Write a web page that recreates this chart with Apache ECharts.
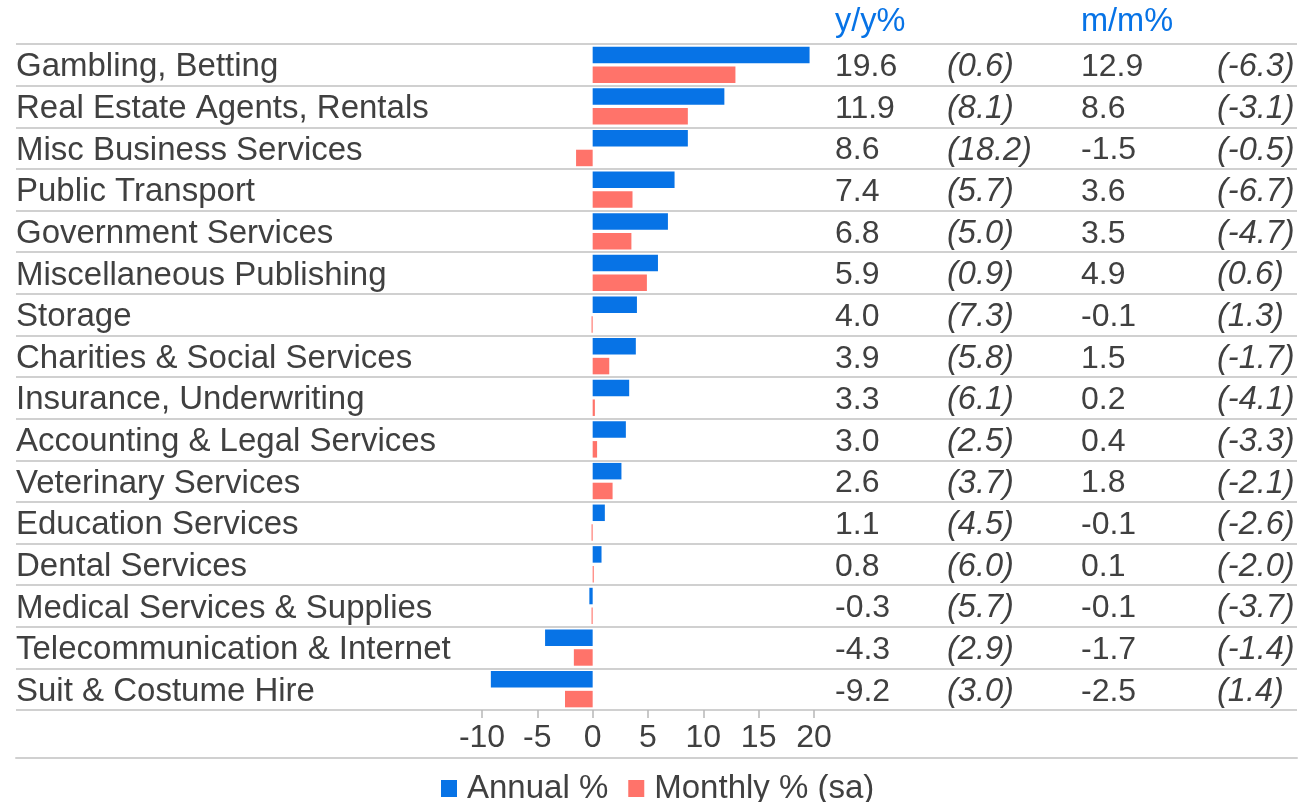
<!DOCTYPE html>
<html>
<head>
<meta charset="utf-8">
<script src="https://cdn.jsdelivr.net/npm/echarts@6/dist/echarts.min.js"></script>
<style>
  html, body { margin: 0; padding: 0; background: #ffffff; }
  #chart { width: 1302px; height: 802px; }
</style>
</head>
<body>
<div id="chart"></div>
<script>
// ---- data ----
const categories = [
  'Gambling, Betting',
  'Real Estate Agents, Rentals',
  'Misc Business Services',
  'Public Transport',
  'Government Services',
  'Miscellaneous Publishing',
  'Storage',
  'Charities & Social Services',
  'Insurance, Underwriting',
  'Accounting & Legal Services',
  'Veterinary Services',
  'Education Services',
  'Dental Services',
  'Medical Services & Supplies',
  'Telecommunication & Internet',
  'Suit & Costume Hire'
];
const annualPct   = [19.6, 11.9, 8.6, 7.4, 6.8, 5.9, 4.0, 3.9, 3.3, 3.0, 2.6, 1.1, 0.8, -0.3, -4.3, -9.2];
const annualPrev  = [0.6, 8.1, 18.2, 5.7, 5.0, 0.9, 7.3, 5.8, 6.1, 2.5, 3.7, 4.5, 6.0, 5.7, 2.9, 3.0];
const monthlyPct  = [12.9, 8.6, -1.5, 3.6, 3.5, 4.9, -0.1, 1.5, 0.2, 0.4, 1.8, -0.1, 0.1, -0.1, -1.7, -2.5];
const monthlyPrev = [-6.3, -3.1, -0.5, -6.7, -4.7, 0.6, 1.3, -1.7, -4.1, -3.3, -2.1, -2.6, -2.0, -3.7, -1.4, 1.4];
const xTicks = { min: -10, max: 20, interval: 5 };
const seriesNames = ['Annual %', 'Monthly % (sa)'];
const headers = ['y/y%', 'm/m%'];

// ---- style ----
const FONT = "'Liberation Sans', Arial, Helvetica, sans-serif";
const TXT = '#404040';
const BLUE = '#0773e6';
const RED = '#ff736a';
const LINE = '#d0d0d0';
const GRID_LEFT = 482, GRID_RIGHT_X = 814, TOP = 44, ROWS_H = 666;
const colX = [835, 947, 1081, 1217];

const fmt = v => v.toFixed(1);
const fmtP = v => '(' + v.toFixed(1) + ')';

function colAxis(x, values, formatter, italic) {
  return {
    type: 'category', gridIndex: 0, inverse: true, position: 'right',
    offset: x - GRID_RIGHT_X, data: categories,
    axisLine: { show: false }, axisTick: { show: false }, splitLine: { show: false },
    axisLabel: {
      margin: 0, align: 'left', interval: 0, verticalAlign: 'top', lineHeight: 5,
      fontFamily: FONT, fontSize: italic ? 32.5 : 32, color: TXT, fontStyle: italic ? 'italic' : 'normal',
      formatter: (v, i) => formatter(values[i])
    }
  };
}

const chart = echarts.init(document.getElementById('chart'), null, { renderer: 'canvas' });
chart.setOption({
  animation: false,
  backgroundColor: '#ffffff',
  title: [
    { text: headers[0], left: colX[0], top: 6, padding: 0,
      textStyle: { fontFamily: FONT, fontSize: 32.5, fontWeight: 'normal', color: BLUE, lineHeight: 32 } },
    { text: headers[1], left: colX[2], top: 6, padding: 0,
      textStyle: { fontFamily: FONT, fontSize: 32.5, fontWeight: 'normal', color: BLUE, lineHeight: 32 } }
  ],
  legend: {
    data: seriesNames, left: 441, top: 772, padding: 0,
    itemWidth: 16, itemHeight: 17, itemGap: 20, icon: 'rect',
    textStyle: { fontFamily: FONT, fontSize: 33, color: TXT, lineHeight: 32, padding: [0, 0, 0, 5] }
  },
  grid: [
    { left: GRID_LEFT, right: 1302 - GRID_RIGHT_X, top: TOP, height: ROWS_H },
    { left: 16, right: 5, top: TOP, height: ROWS_H }
  ],
  xAxis: [
    {
      type: 'value', gridIndex: 0, min: xTicks.min, max: xTicks.max, interval: xTicks.interval,
      axisLine: { show: false },
      axisTick: { show: true, length: 8, lineStyle: { color: '#b8b8b8', width: 1.5 } },
      splitLine: { show: false },
      axisLabel: { margin: 12, fontFamily: FONT, fontSize: 32, color: TXT, lineHeight: 32 }
    },
    {
      type: 'value', gridIndex: 1, min: 0, max: 1, offset: 48,
      axisLine: { show: true, onZero: false, lineStyle: { color: LINE, width: 2 } },
      axisTick: { show: false }, axisLabel: { show: false }, splitLine: { show: false }
    }
  ],
  yAxis: [
    {
      type: 'category', gridIndex: 0, inverse: true, data: categories,
      axisLine: { show: false }, axisTick: { show: false }, splitLine: { show: false },
      axisLabel: {
        margin: GRID_LEFT - 16, align: 'left', interval: 0, verticalAlign: 'top', lineHeight: 5,
        fontFamily: FONT, fontSize: 33, color: TXT
      }
    },
    colAxis(colX[0], annualPct, fmt, false),
    colAxis(colX[1], annualPrev, fmtP, true),
    colAxis(colX[2], monthlyPct, fmt, false),
    colAxis(colX[3], monthlyPrev, fmtP, true),
    {
      type: 'category', gridIndex: 1, inverse: true, data: categories,
      axisLine: { show: false }, axisTick: { show: false }, axisLabel: { show: false },
      splitLine: { show: true, interval: 0, lineStyle: { color: LINE, width: 2 } }
    }
  ],
  series: [
    {
      name: seriesNames[0], type: 'bar', xAxisIndex: 0, yAxisIndex: 0,
      data: annualPct, barWidth: 16.5, barGap: '20%',
      itemStyle: { color: BLUE }
    },
    {
      name: seriesNames[1], type: 'bar', xAxisIndex: 0, yAxisIndex: 0,
      data: monthlyPct, barWidth: 16.5, barGap: '20%',
      itemStyle: { color: RED }
    }
  ]
});
</script>
</body>
</html>
